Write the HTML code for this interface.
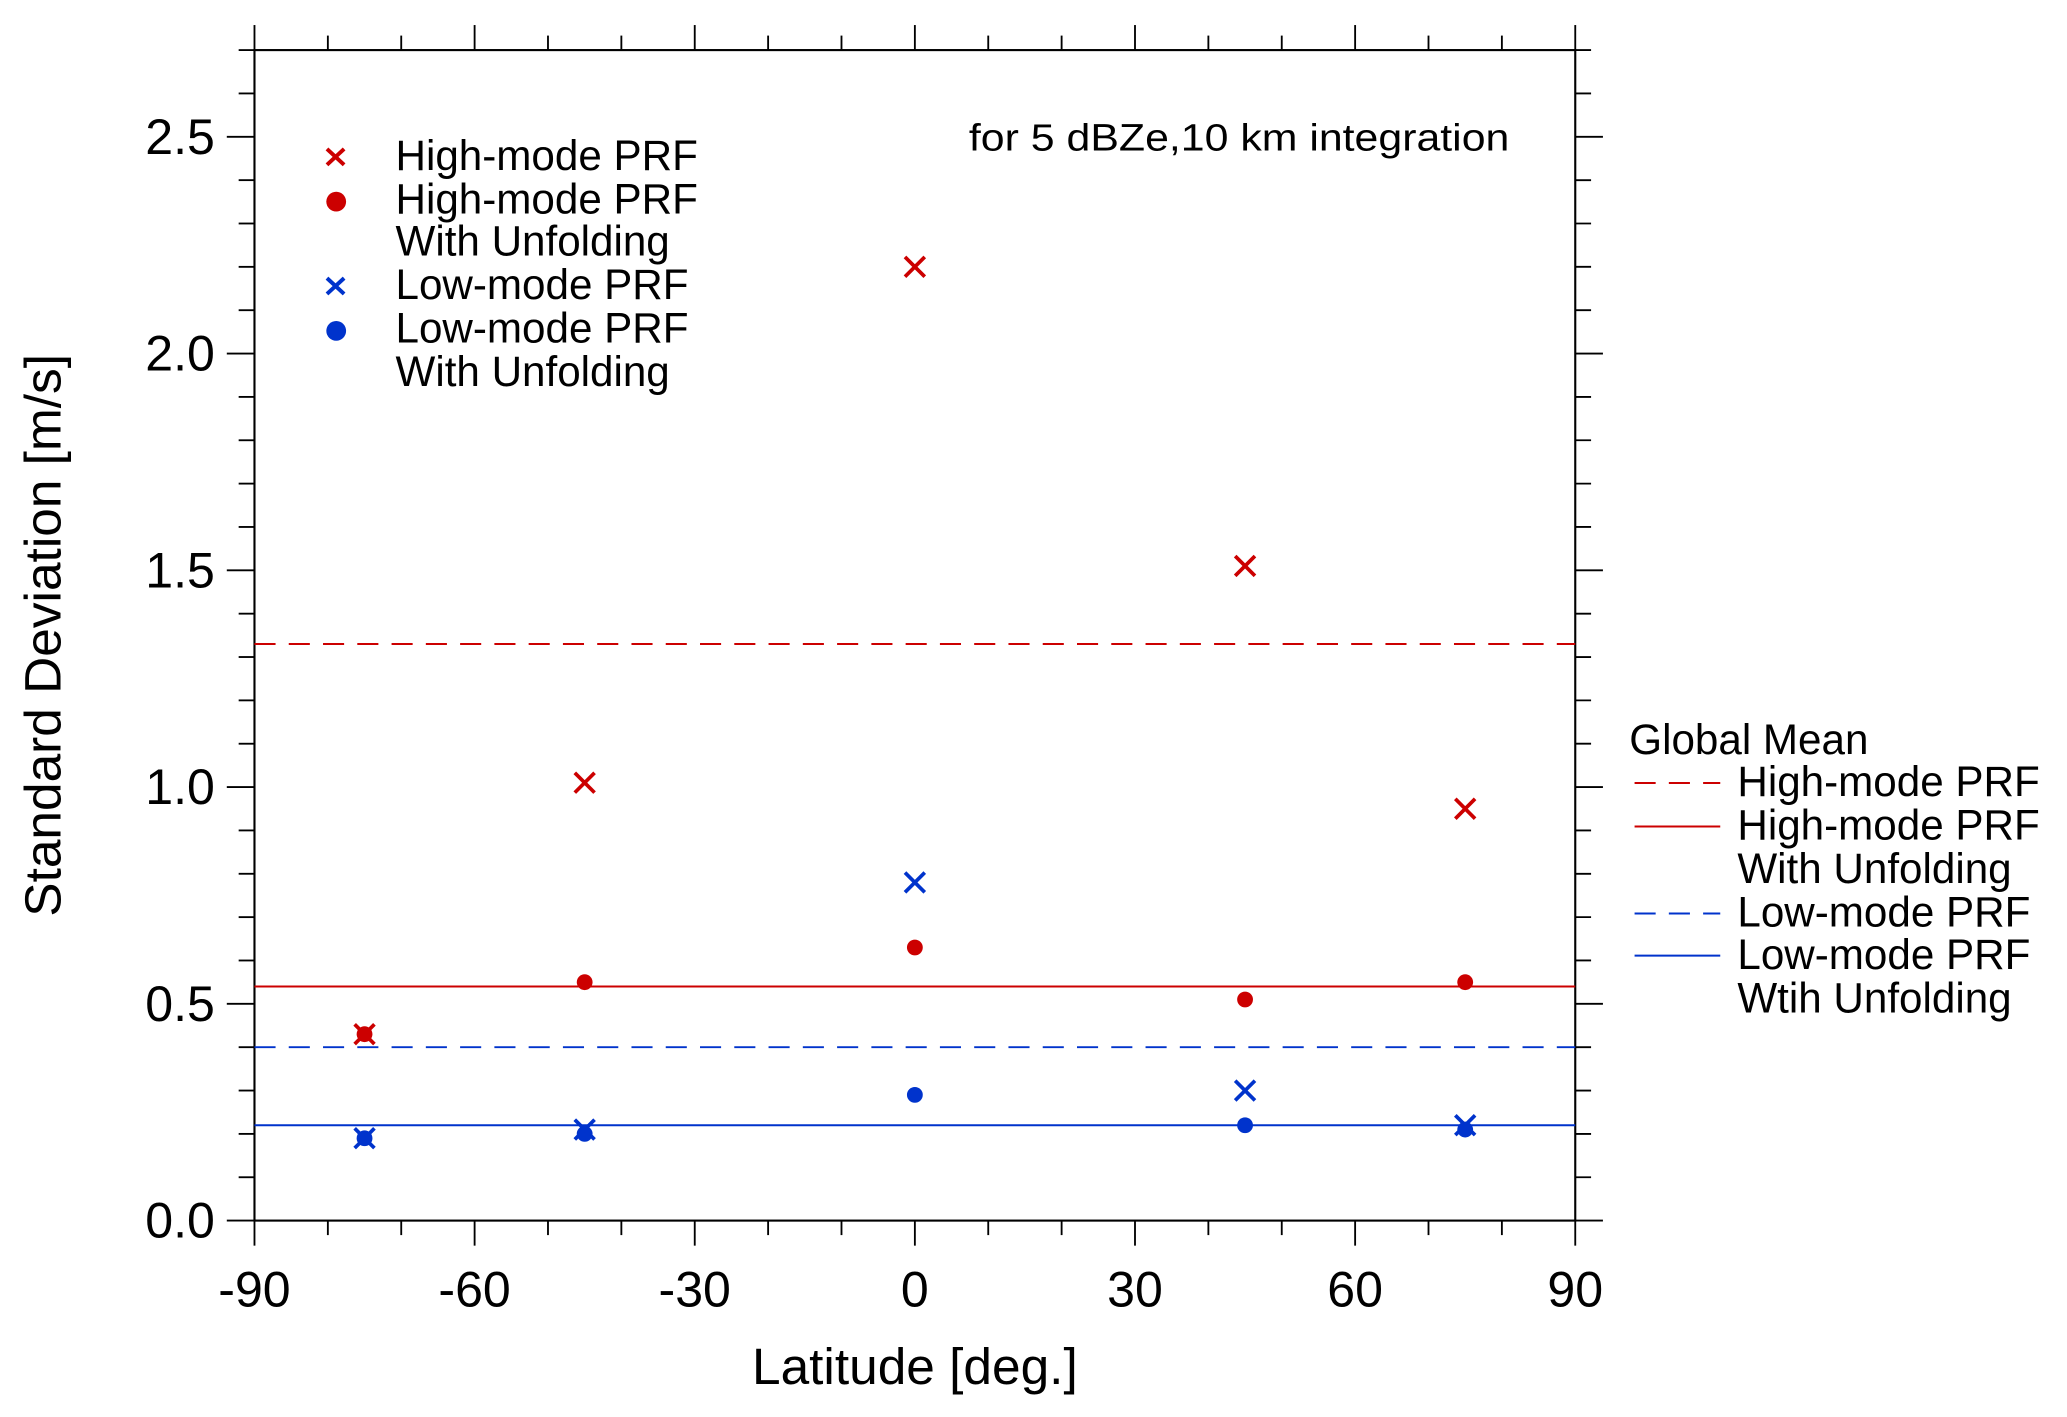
<!DOCTYPE html>
<html><head><meta charset="utf-8"><style>
html,body{margin:0;padding:0;background:#fff;}
svg{display:block;font-family:"Liberation Sans",Arial,sans-serif;}
</style></head><body>
<svg id="chart" width="2067" height="1417" viewBox="0 0 1568 1075" xmlns="http://www.w3.org/2000/svg">
<rect x="0" y="0" width="1568" height="1075" fill="#fff"/>
<g id="axes"></g>
<g id="marks"></g>
<text x="735" y="114" font-size="29" textLength="410" lengthAdjust="spacingAndGlyphs">for 5 dBZe,10 km integration</text>
<text transform="translate(46,482) rotate(-90)" text-anchor="middle" font-size="39">Standard Deviation [m/s]</text>
<text x="694" y="1050" text-anchor="middle" font-size="39">Latitude [deg.]</text>
<g font-size="32">
  <g><path d="M248,113 l13,12 M261,113 l-13,12" stroke="#cc0000" stroke-width="3"/><text x="300" y="129">High-mode PRF</text></g>
  <g><circle cx="255" cy="153" r="7.5" fill="#cc0000"/><text x="300" y="162">High-mode PRF</text><text x="300" y="194">With Unfolding</text></g>
  <g><path d="M248,211 l13,12 M261,211 l-13,12" stroke="#0033cc" stroke-width="3"/><text x="300" y="227">Low-mode PRF</text></g>
  <g><circle cx="255" cy="251" r="7.5" fill="#0033cc"/><text x="300" y="260">Low-mode PRF</text><text x="300" y="293">With Unfolding</text></g>
</g>
<g font-size="32">
  <text x="1236" y="572">Global Mean</text>
  <g><line x1="1240" y1="594" x2="1305" y2="594" stroke="#cc0000" stroke-width="1.5" stroke-dasharray="16,10"/><text x="1318" y="604">High-mode PRF</text></g>
  <g><line x1="1240" y1="627" x2="1305" y2="627" stroke="#cc0000" stroke-width="1.5"/><text x="1318" y="637">High-mode PRF</text><text x="1318" y="670">With Unfolding</text></g>
  <g><line x1="1240" y1="693" x2="1305" y2="693" stroke="#0033cc" stroke-width="1.5" stroke-dasharray="16,10"/><text x="1318" y="703">Low-mode PRF</text></g>
  <g><line x1="1240" y1="725" x2="1305" y2="725" stroke="#0033cc" stroke-width="1.5"/><text x="1318" y="735">Low-mode PRF</text><text x="1318" y="768">Wtih Unfolding</text></g>
</g>
</svg>
<script>
const latitudes = [-75, -45, 0, 45, 75];
const highMode = [0.43, 1.01, 2.20, 1.51, 0.95];
const highModeUnfold = [0.43, 0.55, 0.63, 0.51, 0.55];
const lowMode = [0.19, 0.21, 0.78, 0.30, 0.22];
const lowModeUnfold = [0.19, 0.20, 0.29, 0.22, 0.21];
const meanHigh = 1.33;
const meanHighUnfold = 0.54;
const meanLow = 0.40;
const meanLowUnfold = 0.22;
const xTickLabels = ["-90", "-60", "-30", "0", "30", "60", "90"];
const yTickLabels = ["0.0", "0.5", "1.0", "1.5", "2.0", "2.5"];

const L = 193, R = 1195, T = 38, B = 926;
const xMin = -90, xMax = 90, yMin = 0, yMax = 2.7;
function xs(v){ return L + (v - xMin) / (xMax - xMin) * (R - L); }
function ys(v){ return B - (v - yMin) / (yMax - yMin) * (B - T); }
const NS = "http://www.w3.org/2000/svg";
function mk(tag, attrs, parent){ const e = document.createElementNS(NS, tag); for (const k in attrs) e.setAttribute(k, attrs[k]); parent.appendChild(e); return e; }
const axes = document.getElementById('axes');
const marks = document.getElementById('marks');

const frame = mk('rect', {x:L, y:T, width:R-L, height:B-T, fill:'none', stroke:'#000', 'stroke-width':1.6}, axes);



for (let v = xMin; v <= xMax; v += 10) {
  const major = (v % 30 === 0);
  const len = major ? 19 : 11;
  const x = xs(v);
  const tb = mk('line', {x1:x, y1:B, x2:x, y2:B+len, stroke:'#000', 'stroke-width':1.4}, axes);
  
  
  const tt = mk('line', {x1:x, y1:T, x2:x, y2:T-len, stroke:'#000', 'stroke-width':1.4}, axes);
  
  
}
xTickLabels.forEach(function(lab){
  const t = mk('text', {x:xs(parseFloat(lab)), y:991, 'text-anchor':'middle', 'font-size':38}, axes);
  t.textContent = lab;
  
  
});
for (let i = 0; i <= 27; i++) {
  const v = i / 10;
  const major = (i % 5 === 0);
  const len = major ? 21 : 12;
  const y = ys(v);
  const tl = mk('line', {x1:L, y1:y, x2:L-len, y2:y, stroke:'#000', 'stroke-width':1.4}, axes);
  
  
  const tr = mk('line', {x1:R, y1:y, x2:R+len, y2:y, stroke:'#000', 'stroke-width':1.4}, axes);
  
  
}
yTickLabels.forEach(function(lab){
  const t = mk('text', {x:163, y:ys(parseFloat(lab))+13, 'text-anchor':'end', 'font-size':38}, axes);
  t.textContent = lab;
  
  
});

function meanLine(v, color, dashed, name){
  const a = {x1:L, y1:ys(v), x2:R, y2:ys(v), stroke:color, 'stroke-width':1.5};
  if (dashed) a['stroke-dasharray'] = '16,10';
  const l = mk('line', a, marks);
  
  
}
meanLine(meanHigh, '#cc0000', true, 'mean-line-high');
meanLine(meanHighUnfold, '#cc0000', false, 'mean-line-high-unfold');
meanLine(meanLow, '#0033cc', true, 'mean-line-low');
meanLine(meanLowUnfold, '#0033cc', false, 'mean-line-low-unfold');

function crosses(vals, color, name){
  vals.forEach(function(v, i){
    const cx = xs(latitudes[i]), cy = ys(v), s = 7.5;
    const p = mk('path', {d:'M'+(cx-s)+','+(cy-s)+' L'+(cx+s)+','+(cy+s)+' M'+(cx+s)+','+(cy-s)+' L'+(cx-s)+','+(cy+s), stroke:color, 'stroke-width':2.8, fill:'none'}, marks);
    
    
  });
}
function dots(vals, color, name){
  vals.forEach(function(v, i){
    const c = mk('circle', {cx:xs(latitudes[i]), cy:ys(v), r:6, fill:color}, marks);
    
    
  });
}
dots(highModeUnfold, '#cc0000', 'point-high-unfold');
crosses(highMode, '#cc0000', 'point-high');
dots(lowModeUnfold, '#0033cc', 'point-low-unfold');
crosses(lowMode, '#0033cc', 'point-low');
</script>
</body></html>
